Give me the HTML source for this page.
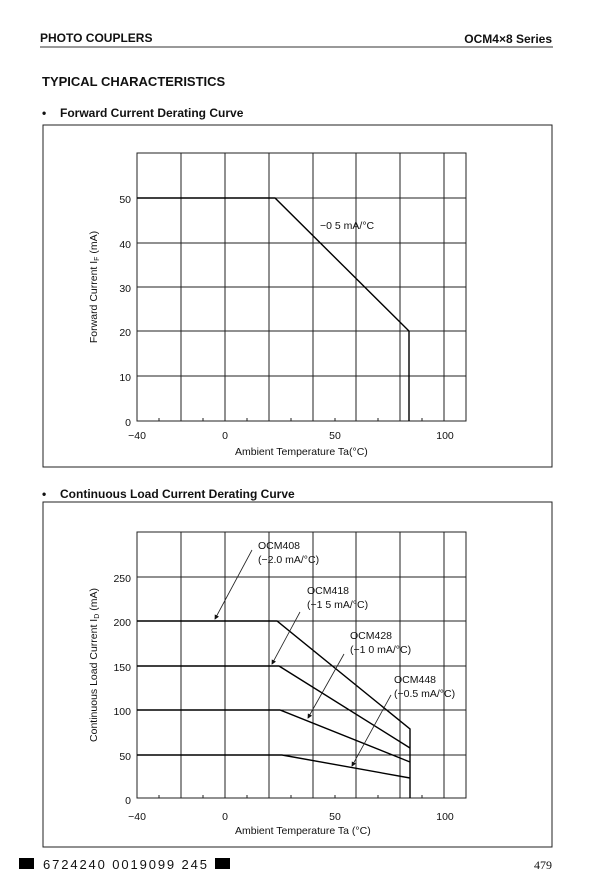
<!DOCTYPE html>
<html><head><meta charset="utf-8"><style>
html,body{margin:0;padding:0;background:#fff;}
svg{display:block;}
text{font-family:"Liberation Sans",sans-serif;fill:#111;}
.g{stroke:#222;stroke-width:1;fill:none;}
.c{stroke:#000;stroke-width:1.4;fill:none;}
.t{font-size:10.5px;}
.a{stroke:#222;stroke-width:0.8;fill:none;}
</style></head><body>
<svg width="608" height="891" viewBox="0 0 608 891" xmlns="http://www.w3.org/2000/svg">
<defs><marker id="ar" markerWidth="6" markerHeight="6" refX="5" refY="3" orient="auto"><path d="M0,0 L6,3 L0,6 z" fill="#111"/></marker></defs>
<text x="40" y="42" font-size="12" font-weight="bold">PHOTO COUPLERS</text>
<text x="552" y="43" font-size="12" font-weight="bold" text-anchor="end">OCM4×8 Series</text>
<line x1="40" y1="47" x2="553" y2="47" stroke="#333" stroke-width="1"/>
<text x="42" y="86" font-size="13" font-weight="bold">TYPICAL CHARACTERISTICS</text>
<text x="42" y="117" font-size="12" font-weight="bold">•</text>
<text x="60" y="117" font-size="12" font-weight="bold">Forward Current Derating Curve</text>
<rect x="43" y="125" width="509" height="342" class="g"/>

<!-- chart 1 -->
<g class="g">
<rect x="137" y="153" width="329" height="268"/>
<line x1="181" y1="153" x2="181" y2="421"/><line x1="225" y1="153" x2="225" y2="421"/>
<line x1="269" y1="153" x2="269" y2="421"/><line x1="313" y1="153" x2="313" y2="421"/>
<line x1="356" y1="153" x2="356" y2="421"/><line x1="400" y1="153" x2="400" y2="421"/>
<line x1="444" y1="153" x2="444" y2="421"/>
<line x1="137" y1="198" x2="466" y2="198"/><line x1="137" y1="243" x2="466" y2="243"/>
<line x1="137" y1="287" x2="466" y2="287"/><line x1="137" y1="331" x2="466" y2="331"/>
<line x1="137" y1="376" x2="466" y2="376"/>
<path d="M159,421v-3M203,421v-3M247,421v-3M291,421v-3M335,421v-3M378,421v-3M422,421v-3"/>
</g>
<polyline class="c" points="137,198 275,198 409,331 409,421"/>
<text x="320" y="229" class="t">−0 5 mA/°C</text>
<g class="t" text-anchor="end">
<text x="131" y="203">50</text><text x="131" y="248">40</text><text x="131" y="292">30</text>
<text x="131" y="336">20</text><text x="131" y="381">10</text><text x="131" y="426">0</text>
</g>
<g class="t" text-anchor="middle">
<text x="137" y="439">−40</text><text x="225" y="439">0</text><text x="335" y="439">50</text><text x="445" y="439">100</text>
</g>
<text x="235" y="455" class="t">Ambient Temperature   Ta(°C)</text>
<text transform="translate(97,287) rotate(-90)" class="t" text-anchor="middle">Forward Current   I<tspan font-size="7" dy="2">F</tspan><tspan dy="-2"> (mA)</tspan></text>

<text x="42" y="498" font-size="12" font-weight="bold">•</text>
<text x="60" y="498" font-size="12" font-weight="bold">Continuous Load Current Derating Curve</text>
<rect x="43" y="502" width="509" height="345" class="g"/>

<!-- chart 2 -->
<g class="g">
<rect x="137" y="532" width="329" height="266"/>
<line x1="181" y1="532" x2="181" y2="798"/><line x1="225" y1="532" x2="225" y2="798"/>
<line x1="269" y1="532" x2="269" y2="798"/><line x1="313" y1="532" x2="313" y2="798"/>
<line x1="356" y1="532" x2="356" y2="798"/><line x1="400" y1="532" x2="400" y2="798"/>
<line x1="444" y1="532" x2="444" y2="798"/>
<line x1="137" y1="577" x2="466" y2="577"/><line x1="137" y1="621" x2="466" y2="621"/>
<line x1="137" y1="666" x2="466" y2="666"/><line x1="137" y1="710" x2="466" y2="710"/>
<line x1="137" y1="755" x2="466" y2="755"/>
<path d="M159,798v-3M203,798v-3M247,798v-3M291,798v-3M335,798v-3M378,798v-3M422,798v-3"/>
</g>
<polyline class="c" points="137,621 277,621 410,729 410,798"/>
<polyline class="c" points="137,666 279,666 410,748"/>
<polyline class="c" points="137,710 280,710 410,762"/>
<polyline class="c" points="137,755 282,755 410,778"/>
<g class="a">
<line x1="252" y1="550" x2="215" y2="619" marker-end="url(#ar)"/><line x1="300" y1="612" x2="272" y2="664" marker-end="url(#ar)"/>
<line x1="344" y1="654" x2="308" y2="718" marker-end="url(#ar)"/><line x1="391" y1="695" x2="352" y2="766" marker-end="url(#ar)"/>
</g>
<g class="t">
<text x="258" y="549">OCM408</text><text x="258" y="563">(−2.0 mA/°C)</text>
<text x="307" y="594">OCM418</text><text x="307" y="608">(−1 5 mA/°C)</text>
<text x="350" y="639">OCM428</text><text x="350" y="653">(−1 0 mA/°C)</text>
<text x="394" y="683">OCM448</text><text x="394" y="697">(−0.5 mA/°C)</text>
</g>
<g class="t" text-anchor="end">
<text x="131" y="582">250</text><text x="131" y="626">200</text><text x="131" y="671">150</text>
<text x="131" y="715">100</text><text x="131" y="760">50</text><text x="131" y="804">0</text>
</g>
<g class="t" text-anchor="middle">
<text x="137" y="820">−40</text><text x="225" y="820">0</text><text x="335" y="820">50</text><text x="445" y="820">100</text>
</g>
<text x="235" y="834" class="t">Ambient Temperature  Ta (°C)</text>
<text transform="translate(97,665) rotate(-90)" class="t" text-anchor="middle">Continuous Load Current   I<tspan font-size="7" dy="2">D</tspan><tspan dy="-2"> (mA)</tspan></text>

<rect x="19" y="858" width="15" height="11" fill="#000"/>
<text x="43" y="869" font-size="13" font-family="Liberation Mono,monospace" textLength="164">6724240 0019099 245</text>
<rect x="215" y="858" width="15" height="11" fill="#000"/>
<text x="552" y="869" font-size="12" text-anchor="end" style="font-family:'Liberation Serif',serif">479</text>
</svg>
</body></html>
